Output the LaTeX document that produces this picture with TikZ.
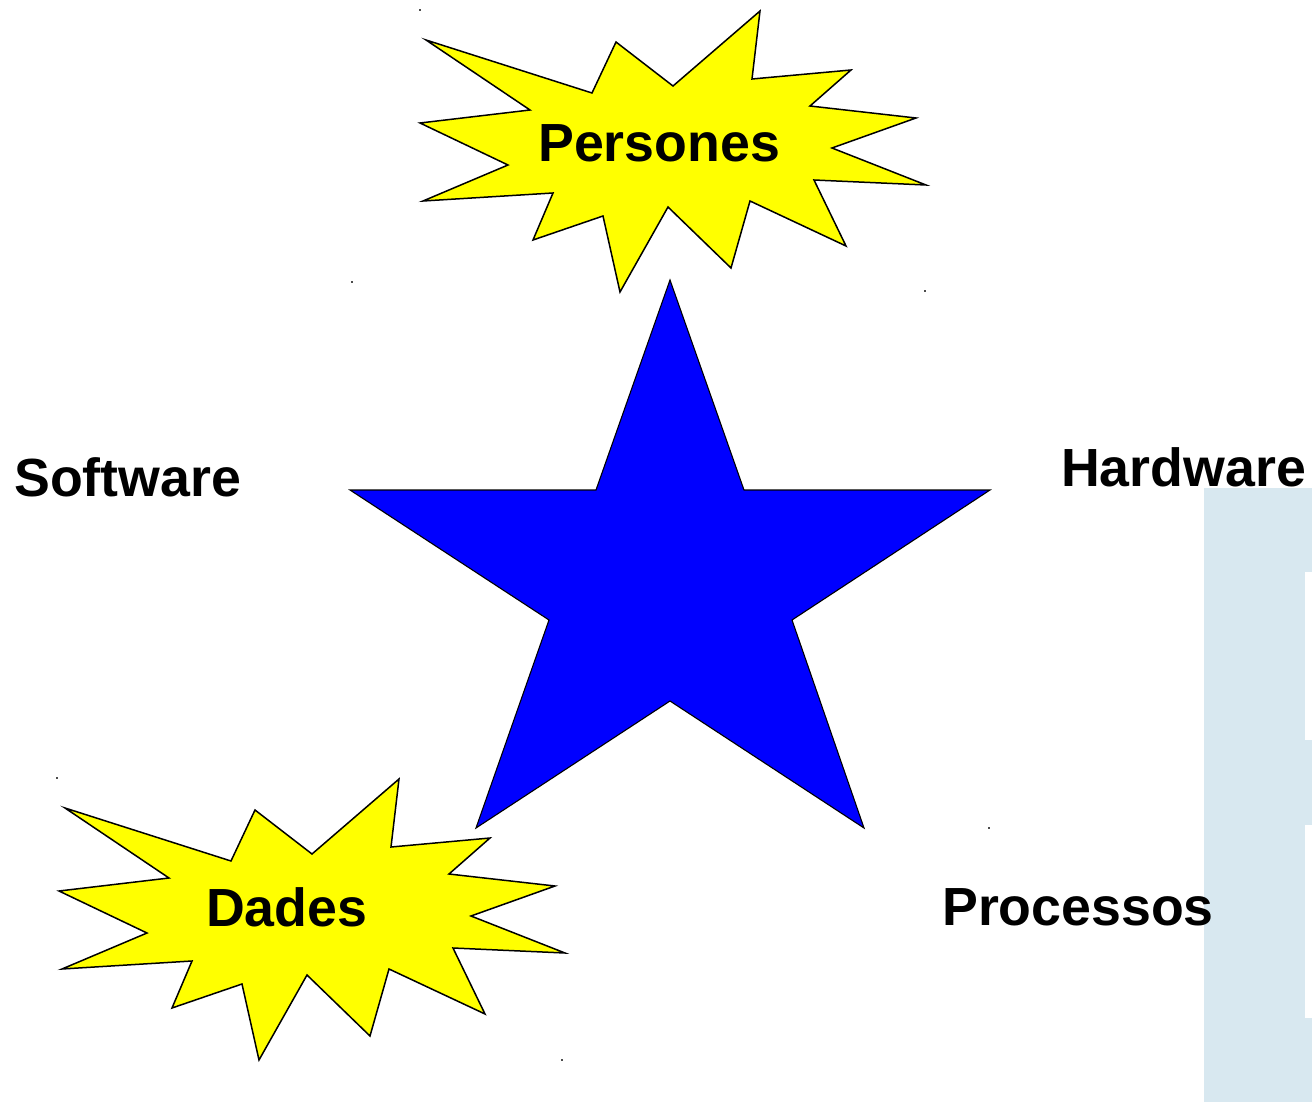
\documentclass[tikz,border=0pt]{standalone}
\usepackage{fontspec}
\setmainfont{Liberation Sans}
\definecolor{panelblue}{RGB}{216,232,240}
\definecolor{starblue}{RGB}{0,0,255}
\definecolor{burstyellow}{RGB}{255,255,0}
\tikzset{
  burst/.style={fill=burstyellow, draw=black, line width=1.5pt, line join=miter},
  bigstar/.style={fill=starblue, draw=black, line width=1.1pt, line join=miter},
  lbl/.style={font=\fontsize{53.7}{60}\selectfont\bfseries, inner sep=0pt, anchor=base west},
  speck/.style={fill=black!70, draw=none}
}
\newcommand{\burstpath}{(426,40) -- (592,93) -- (616,42) -- (673,86) -- (760,11) -- (752,79) -- (851,70) -- (810,106) -- (916,118) -- (832,148) -- (926,185) -- (814,180) -- (846,246) -- (750,201) -- (731,268) -- (668,207) -- (620,292) -- (603,216) -- (533,240) -- (553,193) -- (423,201) -- (508,165) -- (420,123) -- (530,110) -- cycle}
\begin{document}
\begin{tikzpicture}[x=1pt,y=-1pt]
\useasboundingbox (0,0) rectangle (1312,1102);
\fill[white] (0,0) rectangle (1312,1102);
% right panel
\fill[panelblue] (1204,488) rectangle (1312,1102);
\fill[white] (1305,572) rectangle (1312,740);
\fill[white] (1305,825) rectangle (1312,1018);
% bursts
\draw[burst] \burstpath;
\draw[burst, shift={(-361,768)}] \burstpath;
% star
\draw[bigstar] (670,280) -- (744,490) -- (990,490) -- (792,620) -- (864,828) -- (670,701) -- (476,828) -- (549,620) -- (350,490) -- (596,490) -- cycle;
% labels
\node[lbl] (persones) at (538,162) {Persones};
\node[lbl] (dades) at (206,926) {Dades};
\node[lbl] (software) at (14,496) {Software};
\node[lbl] (hardware) at (1061,486) {Hardware};
\node[lbl] (processos) at (942,925) {Processos};
% specks
\foreach \p in {(420,10),(352,282),(925,291),(57,778),(989,828),(562,1060)}
  \fill[speck] \p ++(-1,-1) rectangle ++(2,2);
\end{tikzpicture}
\end{document}
